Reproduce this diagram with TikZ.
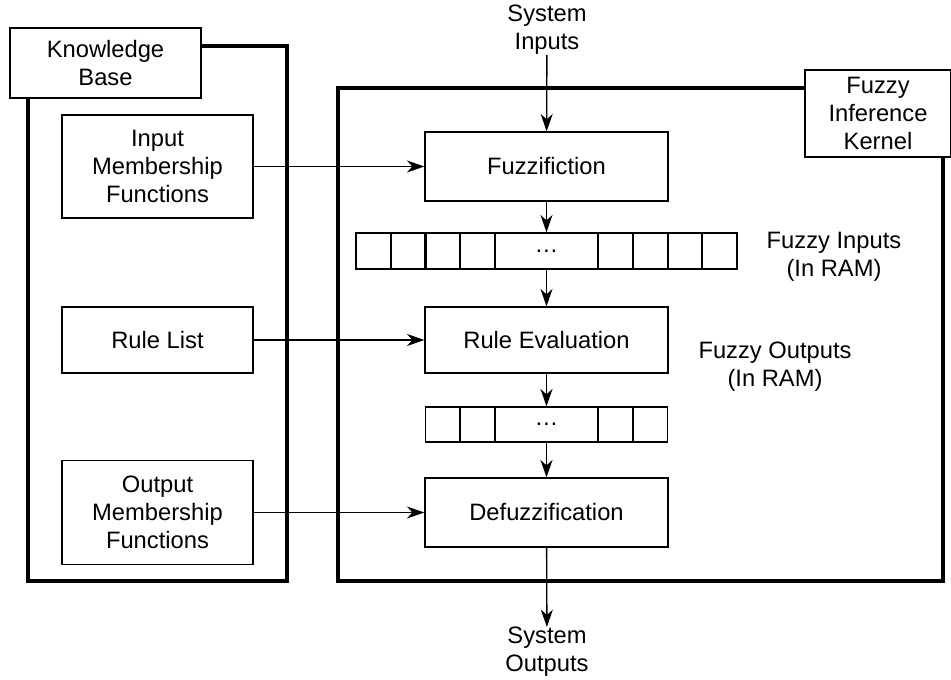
\documentclass[tikz,border=0pt]{standalone}
\usepackage{fontspec}
\setmainfont{Liberation Sans}
\usetikzlibrary{arrows.meta}

\tikzset{
  block/.style={draw, line width=1pt, align=center, inner sep=0pt},
  tagbox/.style={block, fill=white},
  frame/.style={line width=2.4pt},
  flow/.style={-{Stealth[length=13pt,width=9pt,inset=4pt]}, line width=1pt},
  note/.style={align=center, inner sep=0pt}
}

\begin{document}
\begin{tikzpicture}[x=0.75pt, y=-0.75pt, font=\fontsize{17.8}{21}\selectfont]
            \useasboundingbox (0,0) rectangle (951,680);
            % outer frames
            \draw[frame] (28,46) rectangle (287,581);
            \draw[frame] (338,88) rectangle (943,581);
            \node[tagbox, minimum width=143.25pt, minimum height=52.5pt] (kbtag) at (105.5,63) {Knowledge\\Base};
            \node[tagbox, minimum width=109.5pt, minimum height=65.25pt] (fiktag) at (878,113.5) {Fuzzy\\Inference\\Kernel};
            % knowledge base
            \node[block, minimum width=143.25pt, minimum height=77.25pt] (inmf) at (157.5,166.5) {Input\\Membership\\Functions};
            \node[block, minimum width=143.25pt, minimum height=49.5pt] (rules) at (157.5,340) {Rule List};
            \node[block, minimum width=143.25pt, minimum height=78pt] (outmf) at (157.5,512.5) {Output\\Membership\\Functions};
            % kernel
            \node[block, minimum width=182.25pt, minimum height=51.75pt] (fuzz) at (546.5,166.5) {Fuzzifiction};
            \node[block, minimum width=182.25pt, minimum height=27pt] (regin) at (546.5,251) {…};
            \node[block, minimum width=182.25pt, minimum height=49.5pt] (ruleeval) at (546.5,340) {Rule Evaluation};
            \node[block, minimum width=181.5pt, minimum height=26.25pt] (regout) at (546.5,424.5) {…};
            \node[block, minimum width=182.25pt, minimum height=51.75pt] (defuzz) at (546.5,512.5) {Defuzzification};
            % register cells
            \draw[line width=1pt] (356,233) rectangle (737,269);
            \foreach \x in {391,426,460,495,598,633,668,702}
              \draw[line width=1pt] (\x,233) -- (\x,269);
            \foreach \x in {460,495,598,633}
              \draw[line width=1pt] (\x,407) -- (\x,442);
            % texts
            \node[note] (sysin) at (547,30) {System\\Inputs};
            \node[note] (sysout) at (547,652) {System\\Outputs};
            \node[note] (fin) at (834,257) {Fuzzy Inputs\\(In RAM)};
            \node[note] (fout) at (775,367) {Fuzzy Outputs\\(In RAM)};
            % connectors
            \draw[flow] (sysin) -- (fuzz);
            \draw[flow] (fuzz) -- (regin.north);
            \draw[flow] (regin) -- (ruleeval);
            \draw[flow] (ruleeval) -- (regout);
            \draw[flow] (regout) -- (defuzz);
            \draw[flow] (defuzz) -- (sysout);
            \draw[flow] (inmf) -- (fuzz);
            \draw[flow] (rules) -- (ruleeval);
            \draw[flow] (outmf) -- (defuzz);
\end{tikzpicture}
\end{document}
